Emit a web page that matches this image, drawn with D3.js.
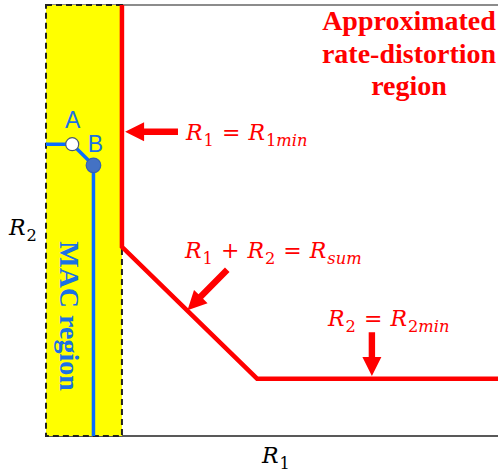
<!DOCTYPE html>
<html>
<head>
<meta charset="utf-8">
<script src="https://cdn.jsdelivr.net/npm/d3@7"></script>
<style>
  body { margin: 0; background: #fff; }
  svg { display: block; }
</style>
</head>
<body>
<div id="chart"></div>
<script>
// rate values in arbitrary units (R1 horizontal, R2 vertical), 0..100
const macRegion = [[0, 0], [16.8, 100]]
const rateBoundary = [[16.8, 100], [16.8, 43.9], [46.7, 13.3], [100, 13.3]]
const macPath = [[0, 67.7], [5.8, 67.7], [10.5, 62.8], [10.5, 0]]
const points = [
  { name: 'A', r1: 5.8, r2: 67.7, filled: false },
  { name: 'B', r1: 10.5, r2: 62.8, filled: true }
]
// arrows: [tail, tip]
const arrows = [
  [[29.2, 70.6], [17.5, 70.6]],
  [[40.1, 38.6], [31.3, 29.2]],
  [[72.1, 24.1], [72.1, 13.9]]
]
const titleLines = ['Approximated', 'rate-distortion', 'region']

const width = 498, height = 475
const margin = { top: 5, right: 0, bottom: 39, left: 46 }

const x = d3.scaleLinear().domain([0, 100]).range([margin.left, width - margin.right])
const y = d3.scaleLinear().domain([0, 100]).range([height - margin.bottom, margin.top])

const svg = d3.select('#chart').append('svg')
  .attr('width', width)
  .attr('height', height)

const red = '#ff0000'
const blue = '#0a6cff'

// frame lines
svg.append('line')
  .attr('x1', x(0)).attr('x2', x(100))
  .attr('y1', y(100)).attr('y2', y(100))
  .attr('stroke', '#8c8c8c').attr('stroke-width', 2)
svg.append('line')
  .attr('x1', x(0)).attr('x2', x(100))
  .attr('y1', y(0)).attr('y2', y(0))
  .attr('stroke', '#222').attr('stroke-width', 1.5)

// MAC region box
svg.append('rect')
  .attr('x', x(macRegion[0][0]))
  .attr('y', y(macRegion[1][1]))
  .attr('width', x(macRegion[1][0]) - x(macRegion[0][0]))
  .attr('height', y(macRegion[0][1]) - y(macRegion[1][1]))
  .attr('fill', '#ffff00')
  .attr('stroke', '#222')
  .attr('stroke-width', 2)
  .attr('stroke-dasharray', '6,4')

const line = d3.line().x(d => x(d[0])).y(d => y(d[1]))

// MAC boundary
svg.append('path')
  .attr('d', line(macPath))
  .attr('fill', 'none')
  .attr('stroke', blue)
  .attr('stroke-width', 3.5)

// rate-distortion boundary
svg.append('path')
  .attr('d', line(rateBoundary))
  .attr('fill', 'none')
  .attr('stroke', red)
  .attr('stroke-width', 4.5)

svg.selectAll('circle.pt')
  .data(points)
  .join('circle')
  .attr('class', 'pt')
  .attr('cx', d => x(d.r1))
  .attr('cy', d => y(d.r2))
  .attr('r', d => d.filled ? 7.3 : 6.5)
  .attr('fill', d => d.filled ? '#4472c4' : '#fff')
  .attr('stroke', d => d.filled ? '#3560b0' : '#4a5a70')
  .attr('stroke-width', 1.2)

svg.selectAll('text.ptlabel')
  .data(points)
  .join('text')
  .attr('class', 'ptlabel')
  .attr('x', d => x(d.r1) + (d.filled ? 2 : 0.5))
  .attr('y', d => y(d.r2) - (d.filled ? 13.5 : 16))
  .attr('text-anchor', 'middle')
  .attr('font-family', 'Liberation Sans, Arial, sans-serif')
  .attr('font-size', 23)
  .attr('fill', '#1a70e6')
  .text(d => d.name)

// arrows as filled polygons
function arrowPoly(a) {
  const x0 = x(a[0][0]), y0 = y(a[0][1]), x1 = x(a[1][0]), y1 = y(a[1][1])
  const dx = x1 - x0, dy = y1 - y0
  const len = Math.hypot(dx, dy)
  const ux = dx / len, uy = dy / len
  const nx = -uy, ny = ux
  const hw = 3.2, hl = 19, hh = 9.5
  const bx = x1 - ux * hl, by = y1 - uy * hl
  return [
    [x0 + nx * hw, y0 + ny * hw],
    [bx + nx * hw, by + ny * hw],
    [bx + nx * hh, by + ny * hh],
    [x1, y1],
    [bx - nx * hh, by - ny * hh],
    [bx - nx * hw, by - ny * hw],
    [x0 - nx * hw, y0 - ny * hw]
  ].map(p => p.join(',')).join(' ')
}
svg.selectAll('polygon.arrow')
  .data(arrows)
  .join('polygon')
  .attr('class', 'arrow')
  .attr('points', arrowPoly)
  .attr('fill', red)

// math labels: parts are [text, italic, subscript, dx]
const mathFont = 'DejaVu Serif, serif'
function mathLabel(px, py, parts, color, size) {
  const t = svg.append('text')
    .attr('x', px).attr('y', py)
    .attr('font-family', mathFont)
    .attr('font-size', size)
    .attr('fill', color)
  let shift = 0
  const subShift = size * 0.28
  parts.forEach(([str, it, sub, dx]) => {
    const s = t.append('tspan').text(str)
    if (it) s.attr('font-style', 'italic')
    if (sub) s.attr('font-size', size * 0.74)
    const target = sub ? subShift : 0
    if (target !== shift) { s.attr('dy', target - shift); shift = target }
    if (dx) s.attr('dx', dx)
  })
  return t
}

const mSize = 22
mathLabel(186, 140, [
  ['R', true], ['1', false, true, 1],
  ['=', false, false, 8],
  ['R', true, false, 8], ['1', false, true, 1], ['min', true, true]
], red, mSize)

mathLabel(185, 258, [
  ['R', true], ['1', false, true, 1],
  ['+', false, false, 8],
  ['R', true, false, 8], ['2', false, true, 1],
  ['=', false, false, 8],
  ['R', true, false, 8], ['sum', true, true, 1]
], red, mSize)

mathLabel(328, 326, [
  ['R', true], ['2', false, true, 1],
  ['=', false, false, 8],
  ['R', true, false, 8], ['2', false, true, 1], ['min', true, true]
], red, mSize)

mathLabel(9, 235, [['R', true], ['2', false, true, 1]], '#000', mSize)
mathLabel(262, 463, [['R', true], ['1', false, true, 1]], '#000', mSize)

// title
svg.selectAll('text.title')
  .data(titleLines)
  .join('text')
  .attr('class', 'title')
  .attr('x', 409)
  .attr('y', (d, i) => 30 + i * 32.5)
  .attr('text-anchor', 'middle')
  .attr('font-family', 'Liberation Serif, Times New Roman, serif')
  .attr('font-weight', 'bold')
  .attr('font-size', 28)
  .attr('fill', red)
  .text(d => d)

// rotated MAC region label
svg.append('text')
  .attr('transform', `translate(60,316) rotate(90)`)
  .attr('text-anchor', 'middle')
  .attr('font-family', 'Liberation Serif, Times New Roman, serif')
  .attr('font-weight', 'bold')
  .attr('font-size', 28)
  .attr('fill', '#1a70e6')
  .text('MAC region')
</script>
</body>
</html>
